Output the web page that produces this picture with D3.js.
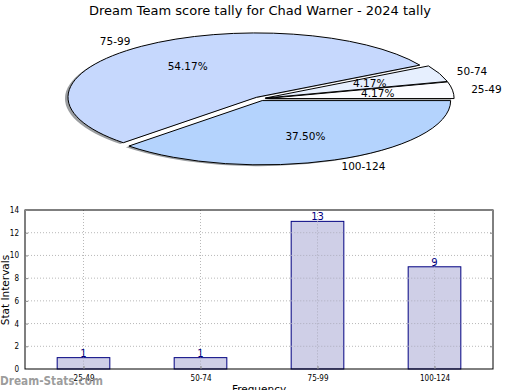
<!DOCTYPE html>
<html><head><meta charset="utf-8">
<script src="https://cdn.jsdelivr.net/npm/d3@7"></script>
<style>
body{margin:0;background:#fff;}
svg{display:block;font-family:"DejaVu Sans",sans-serif;}
</style></head>
<body><svg id="c" width="520" height="390"></svg>
<script>
const title = "Dream Team score tally for Chad Warner - 2024 tally";
const categories = ["25-49", "50-74", "75-99", "100-124"];
const counts = [1, 1, 13, 9];
const pieColors = ["#fbfcff", "#e6effe", "#c6d8fd", "#b4d3fd"];
const yTicks = [0, 2, 4, 6, 8, 10, 12, 14];
const xLabel = "Frequency";
const yLabel = "Stat Intervals";
const watermark = "Dream-Stats.com";

const svg = d3.select("#c");

svg.append("text").attr("x", 260).attr("y", 15).attr("text-anchor", "middle")
  .attr("font-size", 13).attr("fill", "#000").text(title);

// ---- Pie (matplotlib style: ccw from 3 o'clock, exploded, squashed, shadow)
const cx = 260, cy = 98.8, rx = 188.5, ry = 64.3, explode = 0.03;
const total = d3.sum(counts);
const pie = d3.pie().sort(null).startAngle(Math.PI / 2).endAngle(Math.PI / 2 - 2 * Math.PI);
const arcs = pie(counts);
const arc = d3.arc().innerRadius(0).outerRadius(1);
const pieG = svg.append("g");
function off(d, k) {
  const m = (d.startAngle + d.endAngle) / 2;
  return [cx + k * rx * Math.sin(m), cy - k * ry * Math.cos(m)];
}
// shadows
pieG.selectAll("path.sh").data(arcs).enter().append("path").attr("class", "sh")
  .attr("d", arc)
  .attr("transform", d => { const p = off(d, explode); return `translate(${p[0] - 3},${p[1] + 1.3}) scale(${rx},${ry})`; })
  .attr("fill", "#7a7d82").attr("opacity", 0.75);
// wedges
pieG.selectAll("path.w").data(arcs).enter().append("path").attr("class", "w")
  .attr("d", arc)
  .attr("transform", d => { const p = off(d, explode); return `translate(${p[0]},${p[1]}) scale(${rx},${ry})`; })
  .attr("fill", (d, i) => pieColors[i]).attr("stroke", "#000").attr("stroke-width", 1)
  .attr("vector-effect", "non-scaling-stroke").attr("stroke-linejoin", "round");
// labels
arcs.forEach((d, i) => {
  const m = (d.startAngle + d.endAngle) / 2;
  const p = off(d, explode + 1.1);
  pieG.append("text").attr("x", p[0]).attr("y", p[1]).attr("dy", "0.35em")
    .attr("text-anchor", Math.sin(m) > 0 ? "start" : "end")
    .attr("font-size", 10.5).text(categories[i]);
  const q = off(d, explode + 0.6);
  pieG.append("text").attr("x", q[0]).attr("y", q[1]).attr("dy", "0.35em")
    .attr("text-anchor", "middle").attr("font-size", 10.5)
    .text((100 * counts[i] / total).toFixed(2) + "%");
});

// ---- Bar chart
const L = 25, R = 493, T = 210, B = 369;
const x = d3.scaleBand().domain(categories).range([L, R]).paddingInner(0.55).paddingOuter(0.275);
const xc = d3.scalePoint().domain(categories).range([L, R]).padding(0.5);
const y = d3.scaleLinear().domain([0, 14]).range([B, T]);
const g = svg.append("g");

// grid
g.selectAll("line.gy").data(yTicks.filter(t => t > 0 && t < 14)).enter().append("line")
  .attr("x1", L).attr("x2", R).attr("y1", d => y(d)).attr("y2", d => y(d))
  .attr("stroke", "#b8b8b8").attr("stroke-dasharray", "1,2");
g.selectAll("line.gx").data(categories).enter().append("line")
  .attr("x1", d => xc(d)).attr("x2", d => xc(d)).attr("y1", T).attr("y2", B)
  .attr("stroke", "#b8b8b8").attr("stroke-dasharray", "1,2");

// bars
g.selectAll("rect.bar").data(counts).enter().append("rect")
  .attr("x", (d, i) => x(categories[i])).attr("width", x.bandwidth())
  .attr("y", d => y(d)).attr("height", d => B - y(d))
  .attr("fill", "#ccccE6").attr("fill-opacity", 0.95).attr("stroke", "#000080").attr("stroke-width", 1);
// grid over bars (matplotlib draws grid above)
g.selectAll("line.gx2").data(categories).enter().append("line")
  .attr("x1", d => xc(d)).attr("x2", d => xc(d)).attr("y1", d => y(counts[categories.indexOf(d)])).attr("y2", B)
  .attr("stroke", "#b0b0c0").attr("stroke-dasharray", "1,2");
g.selectAll("line.gy2").data(yTicks.filter(t => t > 0 && t < 14)).enter().append("g").each(function (t) {
  counts.forEach((c, i) => {
    if (c > t) d3.select(this).append("line")
      .attr("x1", x(categories[i])).attr("x2", x(categories[i]) + x.bandwidth())
      .attr("y1", y(t)).attr("y2", y(t)).attr("stroke", "#b0b0c0").attr("stroke-dasharray", "1,2");
  });
});

// value labels
g.selectAll("text.val").data(counts).enter().append("text")
  .attr("x", (d, i) => xc(categories[i])).attr("y", d => y(d) - 1)
  .attr("text-anchor", "middle").attr("font-size", 10).attr("fill", "#000080").text(d => d);

// frame
g.append("rect").attr("x", L).attr("y", T).attr("width", R - L).attr("height", B - T)
  .attr("fill", "none").attr("stroke", "#000").attr("stroke-width", 1);

// axes ticks
const yAxis = d3.axisLeft(y).tickValues(yTicks).tickSize(-3).tickPadding(6);
const ya = g.append("g").attr("transform", `translate(${L},0)`).call(yAxis);
ya.select(".domain").remove();
ya.selectAll(".tick line").attr("stroke", "#888");
ya.selectAll("text").attr("font-family", "DejaVu Sans Condensed").attr("font-size", 8);
const yr = g.append("g").attr("transform", `translate(${R},0)`).call(d3.axisRight(y).tickValues(yTicks).tickSize(-3).tickFormat(""));
yr.select(".domain").remove();
yr.selectAll(".tick line").attr("stroke", "#888");

const xAxis = d3.axisBottom(xc).tickSize(-3).tickPadding(6);
const xa = g.append("g").attr("transform", `translate(0,${B})`).call(xAxis);
xa.select(".domain").remove();
xa.selectAll(".tick line").attr("stroke", "#888");
xa.selectAll("text").attr("font-family", "DejaVu Sans Condensed").attr("font-size", 8);

svg.append("text").attr("x", 259).attr("y", 393).attr("text-anchor", "middle").attr("font-size", 10.5).text(xLabel);
svg.append("text").attr("transform", "translate(8.5,290) rotate(-90)").attr("text-anchor", "middle")
  .attr("font-size", 10.5).text(yLabel);

svg.append("text").attr("x", 0).attr("y", 384.5).attr("font-size", 11.5).attr("font-weight", "600")
  .attr("textLength", 103).attr("lengthAdjust", "spacingAndGlyphs")
  .attr("fill", "#8a8a8a").attr("fill-opacity", 0.85).text(watermark);
</script></body></html>
